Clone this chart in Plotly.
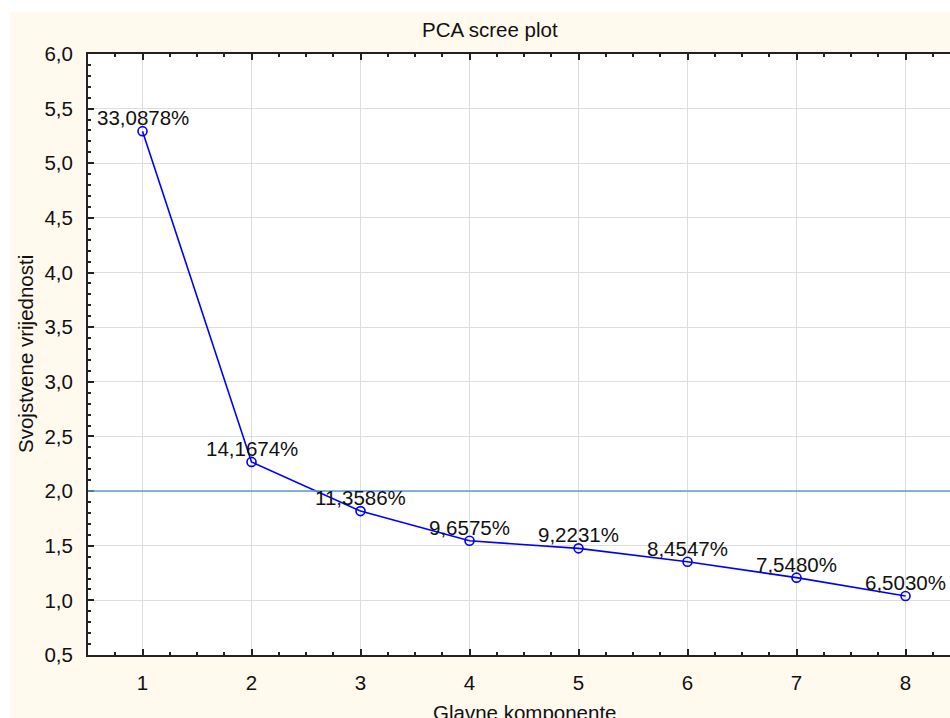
import plotly.graph_objects as go

components = [1, 2, 3, 4, 5, 6, 7, 8]
eigenvalues = [5.294, 2.267, 1.817, 1.545, 1.476, 1.353, 1.208, 1.040]
pct_labels = ["33,0878%", "14,1674%", "11,3586%", "9,6575%", "9,2231%", "8,4547%", "7,5480%", "6,5030%"]
threshold = 2.0

BEIGE = "#FFF9EE"
FONT = "Liberation Sans, Arial, sans-serif"
FS = 20.5
W, H = 960, 718          # the page shows the left 950 px, as in the reference
ML, MT, MR, MB = 88, 54, 0, 718 - 655
pw, ph = W - ML - MR, H - MT - MB


def px(xpage):
    return (xpage - ML) / pw


def py(ypage):
    return 1 - (ypage - MT) / ph


fig = go.Figure()
fig.add_trace(go.Scatter(
    x=components, y=eigenvalues, mode="lines+markers",
    line=dict(color="#0000FF", width=1.6),
    marker=dict(symbol="circle-open", size=9, color="#0000FF", line=dict(width=1.6)),
    showlegend=False, cliponaxis=False,
))
for xv, yv, lab in zip(components, eigenvalues, pct_labels):
    fig.add_annotation(x=xv, y=yv, text=lab, showarrow=False, xanchor="center", yanchor="bottom",
                       yshift=0, font=dict(family=FONT, size=FS, color="#111111"))

fig.add_hline(y=threshold, line=dict(color="#5b9bd5", width=1.5))

# white strips at top and left of the page
fig.add_shape(type="rect", xref="paper", yref="paper",
              x0=px(0) - 0.05, x1=px(980), y0=py(12), y1=py(0) + 0.05,
              fillcolor="white", line=dict(width=0), layer="above")
fig.add_shape(type="rect", xref="paper", yref="paper",
              x0=px(0) - 0.05, x1=px(10), y0=py(730), y1=py(0) + 0.05,
              fillcolor="white", line=dict(width=0), layer="above")

fig.add_annotation(text="Glavne komponente", xref="paper", yref="paper",
                   x=px(524), y=py(712), xanchor="center", yanchor="middle",
                   showarrow=False, font=dict(family=FONT, size=FS, color="#111111"))
fig.add_annotation(text="PCA scree plot", xref="paper", yref="paper",
                   x=px(490), y=py(29), xanchor="center", yanchor="middle",
                   showarrow=False, font=dict(family=FONT, size=FS, color="#111111"))
fig.add_annotation(text="Svojstvene vrijednosti", xref="paper", yref="paper",
                   x=px(25), y=py(354), xanchor="center", yanchor="middle", textangle=-90,
                   showarrow=False, font=dict(family=FONT, size=FS, color="#111111"))

fig.update_layout(
    width=W, height=H,
    margin=dict(l=ML, r=MR, t=MT, b=MB, pad=0),
    paper_bgcolor=BEIGE, plot_bgcolor="white",
    separators=",.",
    font=dict(family=FONT, size=FS, color="#111111"),
    xaxis=dict(range=[0.5, 8.5], tickvals=components, ticks="inside", ticklen=6, tickwidth=2,
               tickcolor="#222", showline=True, linecolor="#222", linewidth=2, mirror="ticks",
               showgrid=True, gridcolor="#dddddd", gridwidth=1, zeroline=False,
               minor=dict(dtick=0.25, ticks="inside", ticklen=3, tickcolor="#222", showgrid=False),
               ticklabelstandoff=8),
    yaxis=dict(range=[0.5, 6.0], dtick=0.5, tickformat=".1f", ticks="inside", ticklen=6, tickwidth=2,
               tickcolor="#222", showline=True, linecolor="#222", linewidth=2,
               showgrid=True, gridcolor="#dddddd", gridwidth=1, zeroline=False,
               minor=dict(dtick=0.1, ticks="inside", ticklen=3, tickcolor="#222", showgrid=False),
               ticklabelstandoff=9),
)

fig.write_html("out.html", config={"displayModeBar": False},
               post_script="document.body.style.margin='0';document.body.style.overflow='hidden';")
